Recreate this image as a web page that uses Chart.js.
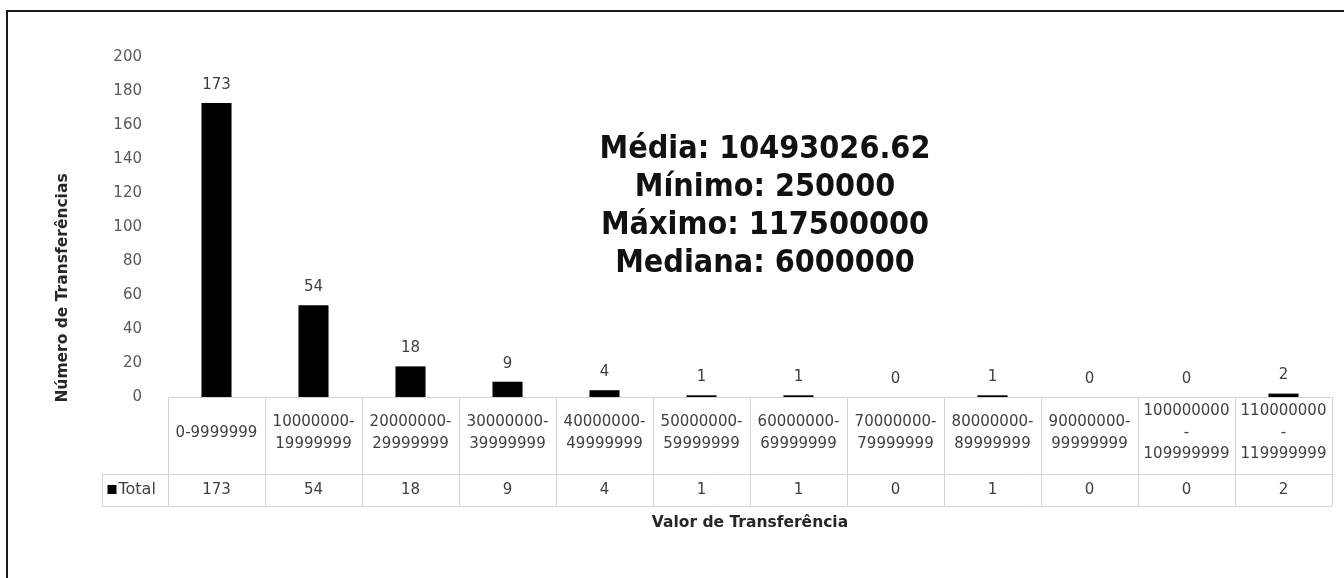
<!DOCTYPE html>
<html>
<head>
<meta charset="utf-8">
<script src="https://cdn.jsdelivr.net/npm/chart.js@4.4.1/dist/chart.umd.min.js"></script>
<style>
    html, body { margin: 0; padding: 0; background: #fff; overflow: hidden; }
    #marco { position: absolute; left: 6px; top: 10px; width: 1400px; height: 700px; border: 2px solid #1a1a1a; pointer-events: none; }
    #lienzo { position: absolute; left: 0; top: 0; width: 1344px; height: 578px; }
</style>
</head>
<body>
<div id="lienzo"><canvas id="transferenciasChart" width="1344" height="578"></canvas></div>
<div id="marco"></div>
<script>
// Faixas de valor (rótulos da tabela de dados)
const faixas = [
    ["0-9999999"],
    ["10000000-", "19999999"],
    ["20000000-", "29999999"],
    ["30000000-", "39999999"],
    ["40000000-", "49999999"],
    ["50000000-", "59999999"],
    ["60000000-", "69999999"],
    ["70000000-", "79999999"],
    ["80000000-", "89999999"],
    ["90000000-", "99999999"],
    ["100000000", "-", "109999999"],
    ["110000000", "-", "119999999"]
];
// Número de transferências por faixa
const totais = [173, 54, 18, 9, 4, 1, 1, 0, 1, 0, 0, 2];
const ticksY = [0, 20, 40, 60, 80, 100, 120, 140, 160, 180, 200];
const estatisticas = [
    "Média: 10493026.62",
    "Mínimo: 250000",
    "Máximo: 117500000",
    "Mediana: 6000000"
];
const nomeSerie = "Total";
const tituloX = "Valor de Transferência";
const tituloY = "Número de Transferências";

const fonte = "'DejaVu Sans', sans-serif";
const fonteEstreita = "'DejaVu Sans Condensed', 'DejaVu Sans', sans-serif";
const corTexto = "#404040";
const corTitulo = "#262626";
const corLinha = "#d4d4d4";

// Tabela de dados + rótulos + caixa de estatísticas
const pluginTabela = {
    id: "tabela",
    afterDatasetsDraw(chart) {
        const { ctx, chartArea, scales: { x } } = chart;
        const meta = chart.getDatasetMeta(0);
        ctx.save();
        // rótulos de valor sobre as barras
        ctx.font = `15px ${fonte}`;
        ctx.fillStyle = corTexto;
        ctx.textAlign = "center";
        ctx.textBaseline = "middle";
        meta.data.forEach((bar, i) => {
            ctx.fillText(String(totais[i]), bar.x, bar.y - 18);
        });

        // linhas da tabela
        const meio = (x.getPixelForValue(1) - x.getPixelForValue(0)) / 2;
        const esq = x.getPixelForValue(0) - meio;
        const dir = x.getPixelForValue(totais.length - 1) + meio;
        const topo = chartArea.bottom;
        const linha1 = topo + 77;
        const linha2 = linha1 + 32;
        const esqTotal = 102.5;
        ctx.strokeStyle = corLinha;
        ctx.lineWidth = 1;
        ctx.beginPath();
        ctx.moveTo(esq, topo + 0.5); ctx.lineTo(dir, topo + 0.5);
        ctx.moveTo(esqTotal, linha1 + 0.5); ctx.lineTo(dir, linha1 + 0.5);
        ctx.moveTo(esqTotal, linha2 + 0.5); ctx.lineTo(dir, linha2 + 0.5);
        ctx.moveTo(esqTotal, linha1); ctx.lineTo(esqTotal, linha2);
        for (let i = 0; i <= totais.length; i++) {
            const px = Math.round(esq + i * meio * 2) + 0.5;
            ctx.moveTo(px, topo); ctx.lineTo(px, linha2);
        }
        ctx.stroke();

        // linha "Total"
        const yTotal = (linha1 + linha2) / 2;
        ctx.fillStyle = "#000";
        ctx.fillRect(esqTotal + 5, yTotal - 5, 9, 9);
        ctx.fillStyle = corTexto;
        ctx.textAlign = "left";
        ctx.font = `16px ${fonte}`;
        ctx.fillText(nomeSerie, esqTotal + 16, yTotal);
        ctx.font = `15px ${fonte}`;
        ctx.textAlign = "center";
        totais.forEach((v, i) => ctx.fillText(String(v), x.getPixelForValue(i), yTotal));

        // título do eixo Y
        ctx.save();
        ctx.translate(63, 288);
        ctx.rotate(-Math.PI / 2);
        ctx.font = `bold 15.5px ${fonte}`;
        ctx.fillStyle = corTitulo;
        ctx.fillText(tituloY, 0, 0);
        ctx.restore();

        // estatísticas
        ctx.font = `bold 32px ${fonteEstreita}`;
        ctx.fillStyle = "#111";
        estatisticas.forEach((t, i) => ctx.fillText(t, 765, 150 + i * 38));
        ctx.restore();
    }
};

new Chart(document.getElementById("transferenciasChart").getContext("2d"), {
    type: "bar",
    data: {
        labels: faixas,
        datasets: [{
            label: nomeSerie,
            data: totais,
            backgroundColor: "#000",
            borderWidth: 0,
            barPercentage: 0.31,
            categoryPercentage: 1
        }]
    },
    options: {
        responsive: false,
        animation: false,
        layout: { padding: { top: 57, right: 12, bottom: 0, left: 0 } },
        plugins: { legend: { display: false }, tooltip: { enabled: false } },
        scales: {
            x: {
                grid: { display: false },
                border: { display: false },
                ticks: {
                    autoSkip: false,
                    maxRotation: 0,
                    crossAlign: "center",
                    padding: 6,
                    color: corTexto,
                    font: { family: fonte, size: 15, lineHeight: 1.45 }
                },
                title: {
                    display: true,
                    text: tituloX,
                    color: corTitulo,
                    font: { family: fonte, size: 15.5, weight: "bold" },
                    padding: { top: 0, bottom: 46 }
                },
                afterFit: s => { s.height = 181; }
            },
            y: {
                min: 0,
                max: 200,
                afterBuildTicks: s => { s.ticks = ticksY.map(v => ({ value: v })); },
                grid: { display: false },
                border: { display: false },
                ticks: {
                    padding: 18,
                    color: "#595959",
                    font: { family: fonte, size: 15 }
                },
                afterFit: s => { s.width = 168; }
            }
        }
    },
    plugins: [pluginTabela]
});
</script>
</body>
</html>
